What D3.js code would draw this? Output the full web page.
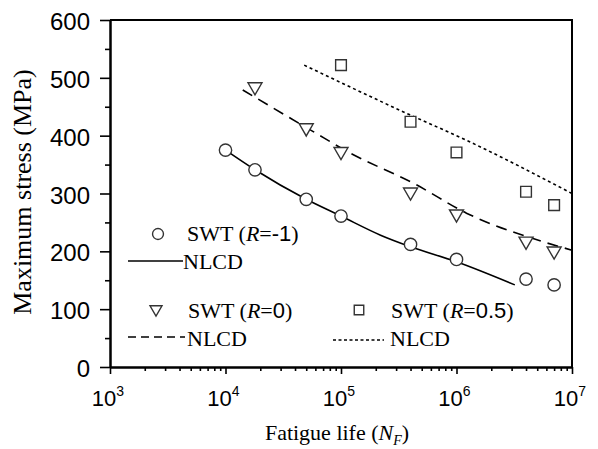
<!DOCTYPE html>
<html><head><meta charset="utf-8">
<script src="https://cdn.jsdelivr.net/npm/d3@7"></script>
<style>
body{margin:0;background:#fff;}
svg{display:block;}
.serif{font-family:"Liberation Serif","Times New Roman",serif;}
.sans{font-family:"Liberation Sans",Arial,sans-serif;}
</style></head>
<body><svg id="c" width="598" height="449"></svg>
<script>
// ---- data ----
const xTicks = [1e3, 1e4, 1e5, 1e6, 1e7];
const xTickExp = ["3", "4", "5", "6", "7"];
const yTicks = [0, 100, 200, 300, 400, 500, 600];

const swtRm1N = [1e4, 1.8e4, 5e4, 1e5, 4e5, 1e6, 4e6, 7e6];
const swtRm1 = [375, 341, 290, 261, 212, 186, 152, 142];
const swtR0N = [1.8e4, 5e4, 1e5, 4e5, 1e6, 4e6, 7e6];
const swtR0 = [481, 410, 369, 299, 261, 214, 197];
const swtR05N = [1e5, 4e5, 1e6, 4e6, 7e6];
const swtR05 = [522, 424, 371, 303, 280];

const nlcdRm1N = [1e4, 1.8e4, 5e4, 1e5, 2.2e5, 4e5, 1e6, 3.2e6];
const nlcdRm1 = [375, 341, 290, 261, 228, 208, 182, 142];
const nlcdR0N = [1.41e4, 5.75e4, 1.15e5, 4.5e5, 1.22e6, 4.6e6, 1e7];
const nlcdR0 = [479, 407, 372, 315, 266, 222, 202];
const nlcdR05N = [4.8e4, 3.95e5, 1.22e6, 1e7];
const nlcdR05 = [522, 436, 392, 300];

// ---- layout ----
const L = 110, R = 572, T = 20, B = 367;
const svg = d3.select("#c");
const x = d3.scaleLog().domain([1e3, 1e7]).range([L, R]);
const y = d3.scaleLinear().domain([0, 600]).range([B, T]);

// minor ticks
const xMinor = [];
for (let e = 3; e < 7; e++) for (let k = 2; k <= 9; k++) xMinor.push(k * Math.pow(10, e));
const yMinor = d3.range(50, 600, 100);

// frame
svg.append("path")
  .attr("d", `M${x.range()[0]},${y.range()[1]}H${x.range()[1]}V${y.range()[0]}`)
  .attr("fill", "none").attr("stroke", "#000").attr("stroke-width", 2);

// axes
const gx = svg.append("g").attr("transform", `translate(0,${B})`);
gx.call(d3.axisBottom(x).tickValues(xMinor).tickSize(4).tickFormat("").tickSizeOuter(0));
const gx2 = svg.append("g").attr("transform", `translate(0,${B})`);
gx2.call(d3.axisBottom(x).tickValues(xTicks).tickSize(7).tickFormat("").tickSizeOuter(0));
const gy = svg.append("g").attr("transform", `translate(${L},0)`);
gy.call(d3.axisLeft(y).tickValues(yMinor).tickSize(5).tickFormat("").tickSizeOuter(0));
const gy2 = svg.append("g").attr("transform", `translate(${L},0)`);
gy2.call(d3.axisLeft(y).tickValues(yTicks).tickSize(10).tickPadding(10).tickSizeOuter(0));
[gx, gx2, gy, gy2].forEach(g => {
  g.selectAll("path.domain").attr("stroke", "#000").attr("stroke-width", 2);
  g.selectAll(".tick line").attr("stroke", "#000").attr("stroke-width", 1.6);
});
gy2.selectAll(".tick text").attr("class", "sans").attr("font-size", 24)
  .attr("fill", "#000").attr("dy", "0.40em").attr("font-family", null);

// x tick labels 10^n
xTicks.forEach((v, i) => {
  const t = svg.append("text").attr("class", "sans").attr("x", x(v) - 2).attr("y", 406)
    .attr("text-anchor", "middle").attr("font-size", 22).attr("fill", "#000");
  t.append("tspan").text("10");
  t.append("tspan").attr("font-size", 14).attr("dy", -10).text(xTickExp[i]);
});

// axis titles
const xt = svg.append("text").attr("class", "serif").attr("x", 337).attr("y", 440)
  .attr("text-anchor", "middle").attr("font-size", 22).attr("fill", "#000");
xt.append("tspan").text("Fatigue life (");
xt.append("tspan").attr("font-style", "italic").text("N");
xt.append("tspan").attr("font-style", "italic").attr("font-size", 14).attr("dy", 5).text("F");
xt.append("tspan").attr("dy", -5).text(")");

svg.append("text").attr("class", "serif")
  .attr("transform", "translate(31,192) rotate(-90)")
  .attr("text-anchor", "middle").attr("font-size", 26).attr("fill", "#000")
  .text("Maximum stress (MPa)");

// lines
const line = d3.line().x(d => x(d[0])).y(d => y(d[1])).curve(d3.curveMonotoneX);
function drawLine(ns, vs, dash) {
  svg.append("path").datum(ns.map((n, i) => [n, vs[i]]))
    .attr("d", line).attr("fill", "none").attr("stroke", "#000")
    .attr("stroke-width", 1.6).attr("stroke-dasharray", dash);
}
drawLine(nlcdRm1N, nlcdRm1, null);
drawLine(nlcdR0N, nlcdR0, "11,7");
drawLine(nlcdR05N, nlcdR05, "3,3");

// markers
const mk = "#333";
const circ = d3.symbol().type(d3.symbolCircle).size(Math.PI * 38);
const sq = d3.symbol().type(d3.symbolSquare).size(115);
function triPath(s) { // downward triangle
  const h = s * 0.87;
  return `M${-s / 2},${-h / 2}L${s / 2},${-h / 2}L0,${h / 2}Z`;
}
function drawPts(ns, vs, kind) {
  svg.append("g").selectAll("path").data(ns.map((n, i) => [n, vs[i]])).join("path")
    .attr("transform", d => `translate(${x(d[0])},${y(d[1])})`)
    .attr("d", kind === "c" ? circ() : kind === "s" ? sq() : triPath(14))
    .attr("fill", "#fff").attr("stroke", mk).attr("stroke-width", 1.4);
}
drawPts(swtRm1N, swtRm1, "c");
drawPts(swtR0N, swtR0, "t");
drawPts(swtR05N, swtR05, "s");

// legend
function legLabel(xp, yp, rval) {
  const t = svg.append("text").attr("class", "serif").attr("x", xp).attr("y", yp)
    .attr("font-size", 22).attr("fill", "#000");
  t.append("tspan").text("SWT (");
  t.append("tspan").attr("font-style", "italic").text("R");
  t.append("tspan").text("=");
  t.append("tspan").attr("font-family", "Liberation Sans, Arial, sans-serif").attr("font-size", 22).text(rval);
  t.append("tspan").text(")");
}
function legLine(x1, x2, yp, dash) {
  svg.append("line").attr("x1", x1).attr("x2", x2).attr("y1", yp).attr("y2", yp)
    .attr("stroke", "#000").attr("stroke-width", 1.6).attr("stroke-dasharray", dash);
}
function legText(xp, yp, s) {
  svg.append("text").attr("class", "serif").attr("x", xp).attr("y", yp)
    .attr("font-size", 22).attr("fill", "#000").text(s);
}
const lc = d3.symbol().type(d3.symbolCircle).size(Math.PI * 30);
const ls = d3.symbol().type(d3.symbolSquare).size(90);
svg.append("path").attr("transform", "translate(158,234)").attr("d", lc())
  .attr("fill", "#fff").attr("stroke", mk).attr("stroke-width", 1.4);
legLabel(187, 241, "-1");
legLine(128, 183, 261, null);
legText(183, 269, "NLCD");

svg.append("path").attr("transform", "translate(156,311)").attr("d", triPath(12))
  .attr("fill", "#fff").attr("stroke", mk).attr("stroke-width", 1.4);
legLabel(188, 318, "0");
legLine(128, 185, 337, "8,5");
legText(187, 346, "NLCD");

svg.append("path").attr("transform", "translate(359,310)").attr("d", ls())
  .attr("fill", "#fff").attr("stroke", mk).attr("stroke-width", 1.4);
legLabel(391, 318, "0.5");
legLine(333, 384, 340, "3,2.5");
legText(390, 346, "NLCD");
</script></body></html>
